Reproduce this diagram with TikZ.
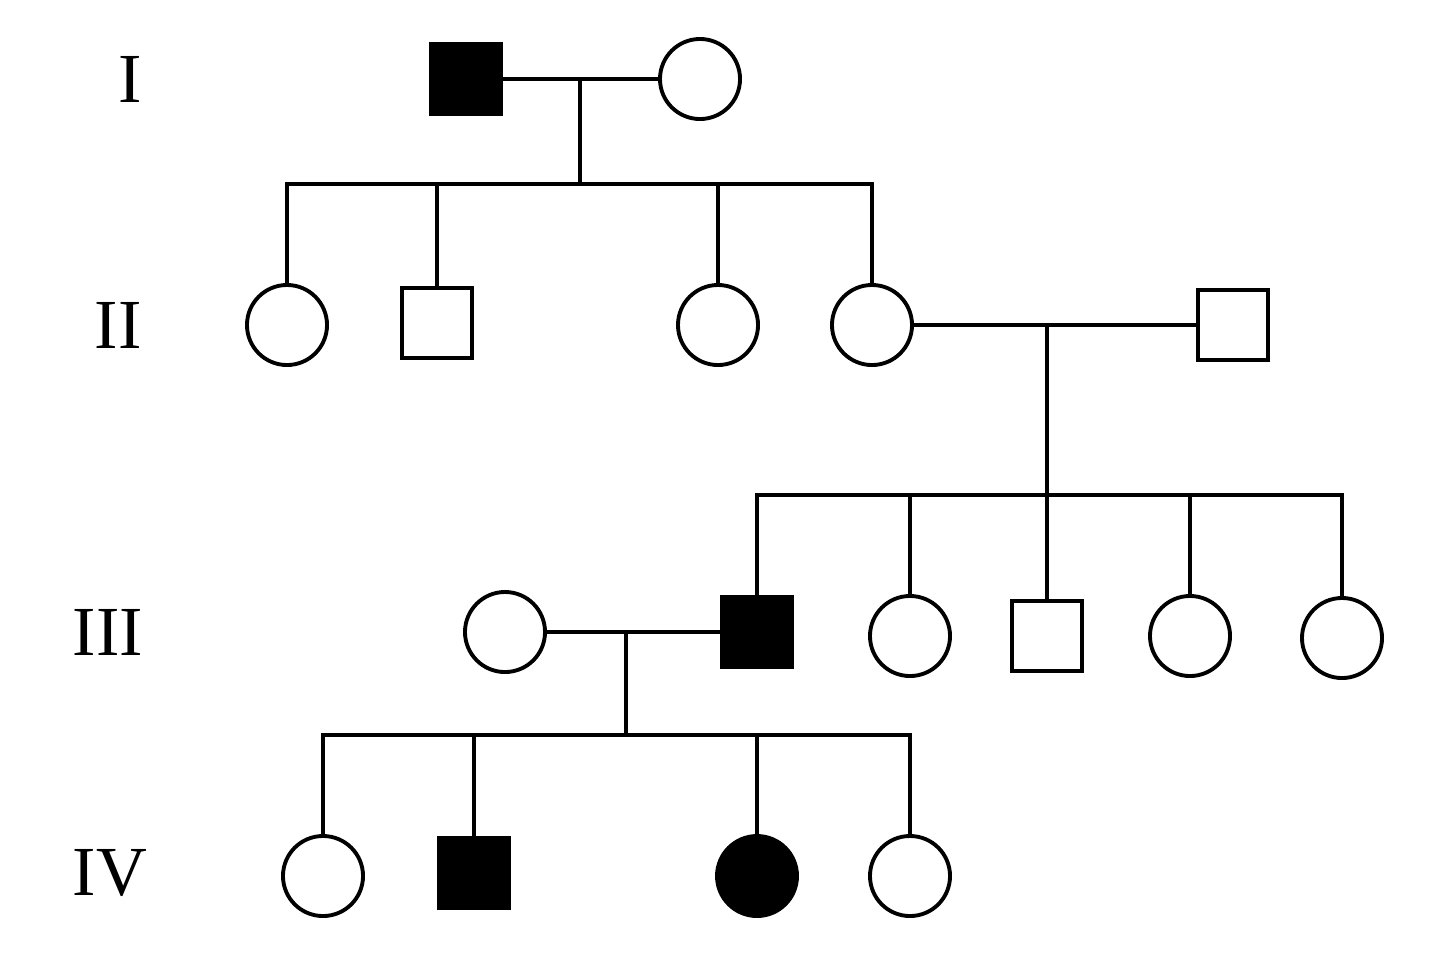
\documentclass[tikz,border=0pt]{standalone}
\usepackage{fontspec}
\setmainfont{Liberation Serif}
\begin{document}
\begin{tikzpicture}[x=0.01cm,y=-0.01cm,line width=1.1pt,
  m/.style={draw,rectangle,minimum size=0.7cm,inner sep=0pt,fill=white},
  f/.style={draw,circle,minimum size=0.8cm,inner sep=0pt,fill=white},
  aff/.style={fill=black},
  gen/.style={font=\fontsize{20}{20}\selectfont}]
\useasboundingbox (0,0) rectangle (1440,972);
\node[gen] (g1) at (130,79) {I};
\node[gen] (g2) at (118,325) {II};
\node[gen] (g3) at (108,632) {III};
\node[gen] (g4) at (110,873) {IV};
% I
\node[m,aff] (i1) at (466,79) {};
\node[f] (i2) at (700,79) {};
\coordinate (c1) at (580,79);
\coordinate (s1) at (580,184);
% II
\node[f] (ii1) at (287,325) {};
\node[m] (ii2) at (437,323) {};
\node[f] (ii3) at (718,325) {};
\node[f] (ii4) at (872,325) {};
\node[m] (ii5) at (1233,325) {};
\coordinate (c2) at (1047,325);
\coordinate (s2) at (1047,495);
% III
\node[f] (iii1) at (505,632) {};
\node[m,aff] (iii2) at (757,632) {};
\node[f] (iii3) at (910,636) {};
\node[m] (iii4) at (1047,636) {};
\node[f] (iii5) at (1190,636) {};
\node[f] (iii6) at (1342,638) {};
\coordinate (c3) at (626,632);
\coordinate (s3) at (626,735);
% IV
\node[f] (iv1) at (323,876) {};
\node[m,aff] (iv2) at (474,873) {};
\node[f,aff] (iv3) at (757,876) {};
\node[f] (iv4) at (910,876) {};
\begin{scope}[on background layer/.style={}]
\draw (i1) -- (i2);
\draw (c1) -- (s1);
\draw (ii1.north) |- (s1) -| (ii4.north);
\draw (ii2.north) -- (ii2.north |- s1);
\draw (ii3.north) -- (ii3.north |- s1);
\draw (ii4) -- (ii5);
\draw (c2) -- (s2);
\draw (iii2.north) |- (s2) -| (iii6.north);
\draw (iii3.north) -- (iii3.north |- s2);
\draw (iii4.north) -- (iii4.north |- s2);
\draw (iii5.north) -- (iii5.north |- s2);
\draw (iii1) -- (iii2);
\draw (c3) -- (s3);
\draw (iv1.north) |- (s3) -| (iv4.north);
\draw (iv2.north) -- (iv2.north |- s3);
\draw (iv3.north) -- (iv3.north |- s3);
\end{scope}
\end{tikzpicture}
\end{document}
